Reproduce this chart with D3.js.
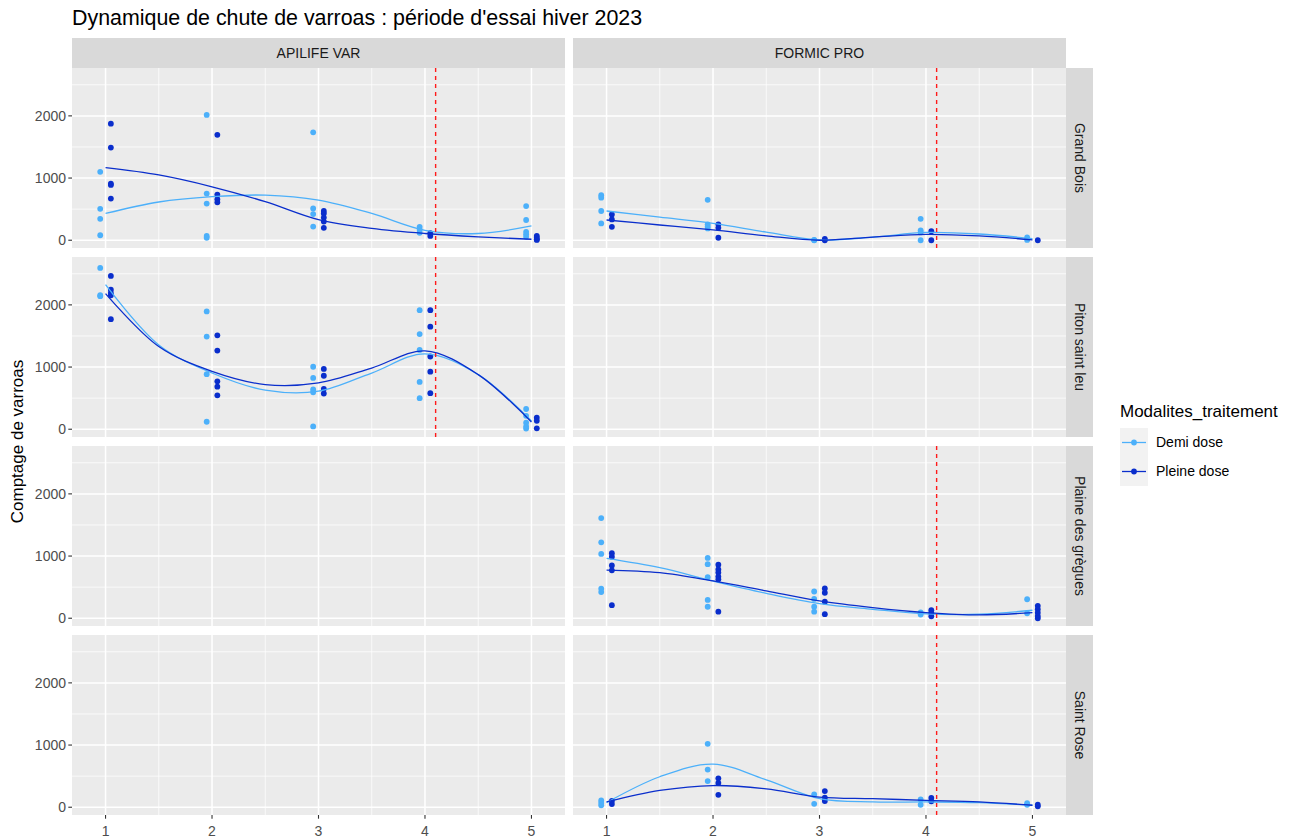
<!DOCTYPE html>
<meta charset="utf-8">
<style>

body {
  margin: 0;
  background: #fff;
  font-family: "Liberation Sans", Arial, sans-serif;
}

.grid-major {
  stroke: #fff;
  stroke-width: 1.5;
}

.grid-minor {
  stroke: #fff;
  stroke-width: 0.75;
}

.tick-mark {
  stroke: #333;
  stroke-width: 1.1;
}

.tick-label {
  fill: #4d4d4d;
  font-size: 14px;
}

.strip-label {
  fill: #1a1a1a;
  font-size: 14px;
}

.vline {
  stroke: #ff1a1a;
  stroke-width: 1.4;
  stroke-dasharray: 4,4;
}

</style>
<svg width="1289" height="840"></svg>
<script src="https://d3js.org/d3.v7.min.js"></script>
<script>

var sites = ["Grand Bois", "Piton saint leu", "Plaine des grègues", "Saint Rose"];
var products = ["APILIFE VAR", "FORMIC PRO"];
var doses = ["Demi dose", "Pleine dose"];
var weeks = [1, 2, 3, 4, 5];
var fitWeeks = [1, 1.5, 2, 2.5, 3, 3.5, 4, 4.5, 5];
var treatmentWeek = 4.1;
var yTicks = [0, 1000, 2000];

// counts per week (one inner list per week)
var grandBoisApiDemi = [[1100, 505, 345, 80], [2015, 750, 590, 70, 40], [1735, 510, 420, 220], [215, 170, 120], [550, 325, 135, 95, 55]];
var grandBoisApiPleine = [[1875, 1490, 910, 890, 670], [1695, 735, 660, 610], [470, 430, 365, 300, 200], [115, 70], [70, 40, 15, 5]];
var grandBoisApiFitDemi = [430, 615, 700, 725, 645, 430, 160, 108, 230];
var grandBoisApiFitPleine = [1167, 1050, 860, 620, 330, 190, 108, 54, 16];

var grandBoisForDemi = [[725, 685, 470, 270], [650, 255, 220, 190], [5, 0], [345, 160, 125, 0], [45, 5]];
var grandBoisForPleine = [[415, 335, 215], [255, 200, 40], [20, 0], [145, 0], [0]];
var grandBoisForFitDemi = [470, 370, 270, 130, 5, 50, 125, 100, 25];
var grandBoisForFitPleine = [325, 245, 165, 70, 0, 50, 95, 70, 5];

var pitonApiDemi = [[2595, 2155, 2140], [1895, 1490, 885, 120], [1005, 825, 640, 595, 45], [1915, 1530, 1275, 760, 500], [325, 215, 105, 45, 10]];
var pitonApiPleine = [[2465, 2245, 2190, 2155, 1770], [1510, 1265, 770, 685, 545], [970, 860, 650, 575], [1915, 1650, 1170, 925, 580], [185, 135, 15]];
var pitonApiFitDemi = [2324, 1356, 904, 628, 612, 904, 1213, 878, 133];
var pitonApiFitPleine = [2181, 1330, 931, 718, 745, 984, 1261, 878, 117];

var plaineForDemi = [[1610, 1220, 1035, 475, 420], [970, 870, 660, 295, 185], [430, 310, 185, 105], [95, 60], [305, 80]];
var plaineForPleine = [[1045, 990, 850, 770, 210], [860, 785, 735, 670, 625, 105], [480, 410, 265, 65], [130, 80, 30], [200, 145, 90, 35, 0]];
var plaineForFitDemi = [963, 813, 599, 401, 235, 144, 70, 64, 128];
var plaineForFitPleine = [775, 733, 599, 439, 278, 171, 91, 53, 91];

var roseForDemi = [[110, 70, 30], [1020, 605, 420], [205, 55], [125, 40], [65, 40]];
var roseForPleine = [[100, 50], [465, 390, 200], [260, 155, 100], [150, 95], [40, 15]];
var roseForFitDemi = [74, 490, 693, 440, 138, 85, 85, 74, 32];
var roseForFitPleine = [85, 270, 349, 296, 164, 138, 111, 85, 32];

var panelData = [
  {site: 0, product: 0, pts: [grandBoisApiDemi, grandBoisApiPleine], fits: [grandBoisApiFitDemi, grandBoisApiFitPleine]},
  {site: 0, product: 1, pts: [grandBoisForDemi, grandBoisForPleine], fits: [grandBoisForFitDemi, grandBoisForFitPleine]},
  {site: 1, product: 0, pts: [pitonApiDemi, pitonApiPleine], fits: [pitonApiFitDemi, pitonApiFitPleine]},
  {site: 2, product: 1, pts: [plaineForDemi, plaineForPleine], fits: [plaineForFitDemi, plaineForFitPleine]},
  {site: 3, product: 1, pts: [roseForDemi, roseForPleine], fits: [roseForFitDemi, roseForFitPleine]}
];

var svg = d3.select("svg"),
    panelW = 493,
    panelH = 180,
    colX = [72, 573],
    rowY = function(i) { return 68 + i * 189; },
    stripH = 30,
    stripW = 27;

var color = d3.scaleOrdinal()
    .domain(doses)
    .range(["#4cb0fa", "#0a2ecc"]);

var dodge = [-0.05, 0.05];

var x = d3.scaleLinear()
    .domain([0.685, 5.315])
    .range([0, panelW]);

var y = d3.scaleLinear()
    .domain([-125, 2770])
    .range([panelH, 0]);

var line = d3.line()
    .x(function(d) { return x(d[0]); })
    .y(function(d) { return y(d[1]); })
    .curve(d3.curveCatmullRom.alpha(0.5));

// title
svg.append("text")
    .attr("x", 72)
    .attr("y", 25)
    .style("font-size", "21.4px")
    .style("fill", "#000")
    .text("Dynamique de chute de varroas : période d'essai hiver 2023");

// column strips
products.forEach(function(p, j) {
  svg.append("rect")
      .attr("x", colX[j]).attr("y", rowY(0) - stripH)
      .attr("width", panelW).attr("height", stripH)
      .attr("fill", "#d9d9d9");
  svg.append("text")
      .attr("class", "strip-label")
      .attr("x", colX[j] + panelW / 2)
      .attr("y", rowY(0) - stripH / 2)
      .attr("dy", "0.35em")
      .attr("text-anchor", "middle")
      .text(p);
});

// row strips
sites.forEach(function(s, i) {
  var cx = colX[1] + panelW + stripW / 2,
      cy = rowY(i) + panelH / 2;
  svg.append("rect")
      .attr("x", colX[1] + panelW).attr("y", rowY(i))
      .attr("width", stripW).attr("height", panelH)
      .attr("fill", "#d9d9d9");
  svg.append("text")
      .attr("class", "strip-label")
      .attr("transform", "translate(" + cx + "," + cy + ") rotate(90)")
      .attr("dy", "0.35em")
      .attr("text-anchor", "middle")
      .text(s);
});

// panels
sites.forEach(function(s, i) {
  products.forEach(function(p, j) {
    var g = svg.append("g")
        .attr("transform", "translate(" + colX[j] + "," + rowY(i) + ")");

    g.append("rect")
        .attr("width", panelW).attr("height", panelH)
        .attr("fill", "#ebebeb");

    var xMinor = d3.range(1.5, 5, 1), yMinor = [500, 1500, 2500];

    g.selectAll(".vminor").data(xMinor).enter().append("line")
        .attr("class", "grid-minor")
        .attr("x1", x).attr("x2", x).attr("y1", 0).attr("y2", panelH);
    g.selectAll(".hminor").data(yMinor).enter().append("line")
        .attr("class", "grid-minor")
        .attr("y1", y).attr("y2", y).attr("x1", 0).attr("x2", panelW);
    g.selectAll(".vmajor").data(weeks).enter().append("line")
        .attr("class", "grid-major")
        .attr("x1", x).attr("x2", x).attr("y1", 0).attr("y2", panelH);
    g.selectAll(".hmajor").data(yTicks).enter().append("line")
        .attr("class", "grid-major")
        .attr("y1", y).attr("y2", y).attr("x1", 0).attr("x2", panelW);

    // y axis on left column
    if (j === 0) {
      yTicks.forEach(function(t) {
        g.append("line").attr("class", "tick-mark")
            .attr("x1", -3.7).attr("x2", 0).attr("y1", y(t)).attr("y2", y(t));
        g.append("text").attr("class", "tick-label")
            .attr("x", -6).attr("y", y(t)).attr("dy", "0.35em")
            .attr("text-anchor", "end")
            .text(t);
      });
    }

    // x axis on bottom row
    if (i === sites.length - 1) {
      weeks.forEach(function(t) {
        g.append("line").attr("class", "tick-mark")
            .attr("x1", x(t)).attr("x2", x(t)).attr("y1", panelH).attr("y2", panelH + 3.7);
        g.append("text").attr("class", "tick-label")
            .attr("x", x(t)).attr("y", panelH + 21)
            .attr("text-anchor", "middle")
            .text(t);
      });
    }

    var pd = panelData.filter(function(d) { return d.site === i && d.product === j; })[0];
    if (!pd) return;

    doses.forEach(function(dose, k) {
      var pts = [];
      pd.pts[k].forEach(function(vals, w) {
        vals.forEach(function(v) { pts.push([weeks[w] + dodge[k], v]); });
      });
      g.selectAll(".pt" + k).data(pts).enter().append("circle")
          .attr("cx", function(d) { return x(d[0]); })
          .attr("cy", function(d) { return y(d[1]); })
          .attr("r", 2.9)
          .attr("fill", color(dose));
    });

    doses.forEach(function(dose, k) {
      g.append("path")
          .datum(fitWeeks.map(function(w, n) { return [w, pd.fits[k][n]]; }))
          .attr("d", line)
          .attr("fill", "none")
          .attr("stroke", color(dose))
          .attr("stroke-width", 1.3);
    });

    g.append("line")
        .attr("class", "vline")
        .attr("x1", x(treatmentWeek)).attr("x2", x(treatmentWeek))
        .attr("y1", 0).attr("y2", panelH);
  });
});

// y axis title
svg.append("text")
    .attr("transform", "translate(23," + (rowY(0) + (rowY(3) + panelH - rowY(0)) / 2) + ") rotate(-90)")
    .attr("text-anchor", "middle")
    .style("font-size", "17px")
    .style("fill", "#000")
    .text("Comptage de varroas");

// legend
var legend = svg.append("g")
    .attr("transform", "translate(1120,428)");

legend.append("text")
    .attr("x", 0).attr("y", -11)
    .style("font-size", "17px")
    .style("fill", "#000")
    .text("Modalites_traitement");

doses.forEach(function(dose, k) {
  var ky = k * 29;
  legend.append("rect")
      .attr("x", 0).attr("y", ky)
      .attr("width", 28).attr("height", 29)
      .attr("fill", "#f2f2f2");
  legend.append("line")
      .attr("x1", 2).attr("x2", 26)
      .attr("y1", ky + 14.5).attr("y2", ky + 14.5)
      .attr("stroke", color(dose))
      .attr("stroke-width", 1.3);
  legend.append("circle")
      .attr("cx", 14).attr("cy", ky + 14.5)
      .attr("r", 2.9)
      .attr("fill", color(dose));
  legend.append("text")
      .attr("x", 36).attr("y", ky + 14.5)
      .attr("dy", "0.35em")
      .style("font-size", "14px")
      .style("fill", "#000")
      .text(dose);
});

</script>
